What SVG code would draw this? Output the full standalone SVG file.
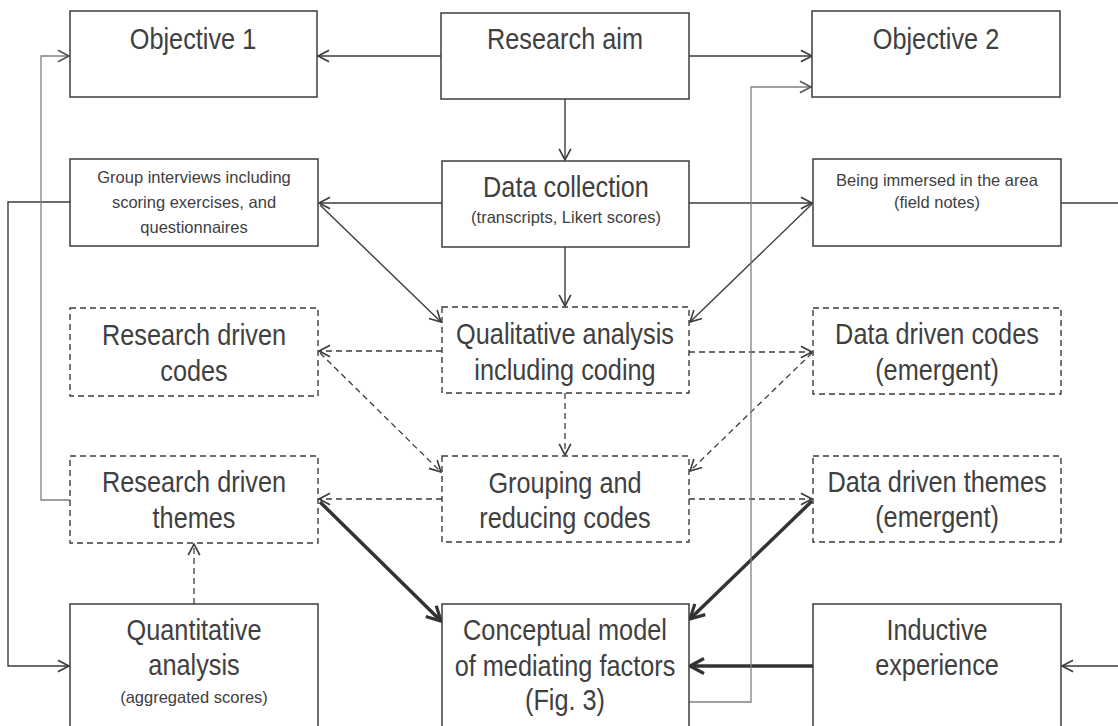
<svg xmlns="http://www.w3.org/2000/svg" width="1118" height="726" viewBox="0 0 1118 726">
  <style>
    .box { fill: #ffffff; stroke: #3c3c3c; stroke-width: 1.5; }
    .dash { fill: #ffffff; stroke: #3c3c3c; stroke-width: 1.4; stroke-dasharray: 6 4; }
    /* large labels use a horizontally condensed sans */
    .big { font-family: "Liberation Sans", Arial, sans-serif; font-size: 30px; fill: #404040; text-anchor: middle; }
    .small { font-family: "Liberation Sans", Arial, sans-serif; font-size: 16.5px; fill: #404040; text-anchor: middle; }
    .ln { fill: none; stroke: #3c3c3c; stroke-width: 1.4; marker-end: url(#open); }
    .dln { fill: none; stroke: #3c3c3c; stroke-width: 1.3; stroke-dasharray: 6 4; marker-end: url(#open); }
    .thick { fill: none; stroke: #333333; stroke-width: 3.5; marker-end: url(#openBig); }
    .grey { fill: none; stroke: #808080; stroke-width: 1.3; marker-end: url(#openGrey); }
  </style>
  <defs>
    <marker id="open" markerUnits="userSpaceOnUse" markerWidth="14" markerHeight="14" viewBox="0 0 12 12" refX="10.5" refY="6" orient="auto">
      <path d="M1,1 L10.5,6 L1,11" fill="none" stroke="#3c3c3c" stroke-width="1.4"/>
    </marker>
    <marker id="openGrey" markerUnits="userSpaceOnUse" markerWidth="14" markerHeight="14" viewBox="0 0 12 12" refX="10.5" refY="6" orient="auto">
      <path d="M1,1 L10.5,6 L1,11" fill="none" stroke="#555555" stroke-width="1.4"/>
    </marker>
    <marker id="openBig" markerUnits="userSpaceOnUse" markerWidth="20" markerHeight="20" viewBox="0 0 20 20" refX="17" refY="10" orient="auto">
      <path d="M3,2.5 L17,10 L3,17.5" fill="none" stroke="#333333" stroke-width="3.2"/>
    </marker>
  </defs>

  <rect width="1118" height="726" fill="#ffffff"/>

  <!-- connectors -->
  <g id="connectors">
    <path class="ln" d="M441,56 H318"/>
    <path class="ln" d="M689,56 H812"/>
    <path class="ln" d="M565,99 V160"/>
    <path class="ln" d="M442,203 H319"/>
    <path class="ln" d="M689,203 H812"/>
    <path class="ln" d="M320,205 L441,322"/>
    <path class="ln" d="M812,204 L690,322"/>
    <path class="ln" d="M565,247 V306"/>
    <path class="dln" d="M442,351 H319"/>
    <path class="dln" d="M689,352 H812"/>
    <path class="dln" d="M320,353 L441,472"/>
    <path class="dln" d="M812,353 L690,471"/>
    <path class="dln" d="M565,393 V455"/>
    <path class="dln" d="M442,499 H319"/>
    <path class="dln" d="M689,499 H812"/>
    <path class="dln" d="M194,604 V544"/>
    <path class="thick" d="M320,502 L441,621"/>
    <path class="thick" d="M812,501 L690,619"/>
    <path class="thick" d="M813,666 H690"/>
    <path class="ln" d="M70,202 H8 V666 H69"/>
    <path class="ln" d="M1061,203 H1130 V666 H1062"/>
    <path class="grey" d="M70,500 H41 V56 H69"/>
    <path class="grey" d="M689,702 H751 V87 H811"/>
  </g>

  <g id="objective1">
    <rect class="box" x="70" y="11" width="247" height="86"/>
    <text class="big" transform="translate(193,49) scale(0.843,1)">Objective 1</text>
  </g>
  <g id="research-aim">
    <rect class="box" x="441" y="13" width="248" height="86"/>
    <text class="big" transform="translate(565,49) scale(0.843,1)">Research aim</text>
  </g>
  <g id="objective2">
    <rect class="box" x="812" y="11" width="248" height="86"/>
    <text class="big" transform="translate(936,49) scale(0.843,1)">Objective 2</text>
  </g>

  <g id="group-interviews">
    <rect class="box" x="70" y="159" width="248" height="87"/>
    <text class="small" x="194" y="183">Group interviews including</text>
    <text class="small" x="194" y="208">scoring exercises, and</text>
    <text class="small" x="194" y="233">questionnaires</text>
  </g>
  <g id="data-collection">
    <rect class="box" x="442" y="161" width="247" height="86"/>
    <text class="big" transform="translate(566,197) scale(0.843,1)">Data collection</text>
    <text class="small" x="566" y="223">(transcripts, Likert scores)</text>
  </g>
  <g id="being-immersed">
    <rect class="box" x="813" y="159" width="248" height="87"/>
    <text class="small" x="937" y="186">Being immersed in the area</text>
    <text class="small" x="937" y="208">(field notes)</text>
  </g>

  <g id="research-driven-codes">
    <rect class="dash" x="70" y="308" width="248" height="88"/>
    <text class="big" transform="translate(194,345) scale(0.843,1)">Research driven</text>
    <text class="big" transform="translate(194,381) scale(0.843,1)">codes</text>
  </g>
  <g id="qualitative-analysis">
    <rect class="dash" x="442" y="307" width="247" height="86"/>
    <text class="big" transform="translate(565,344) scale(0.843,1)">Qualitative analysis</text>
    <text class="big" transform="translate(565,380) scale(0.843,1)">including coding</text>
  </g>
  <g id="data-driven-codes">
    <rect class="dash" x="813" y="308" width="248" height="86"/>
    <text class="big" transform="translate(937,344) scale(0.843,1)">Data driven codes</text>
    <text class="big" transform="translate(937,380) scale(0.843,1)">(emergent)</text>
  </g>

  <g id="research-driven-themes">
    <rect class="dash" x="70" y="456" width="248" height="87"/>
    <text class="big" transform="translate(194,492) scale(0.843,1)">Research driven</text>
    <text class="big" transform="translate(194,528) scale(0.843,1)">themes</text>
  </g>
  <g id="grouping-reducing">
    <rect class="dash" x="442" y="456" width="247" height="86"/>
    <text class="big" transform="translate(565,493) scale(0.843,1)">Grouping and</text>
    <text class="big" transform="translate(565,528) scale(0.843,1)">reducing codes</text>
  </g>
  <g id="data-driven-themes">
    <rect class="dash" x="813" y="456" width="248" height="86"/>
    <text class="big" transform="translate(937,492) scale(0.843,1)">Data driven themes</text>
    <text class="big" transform="translate(937,527) scale(0.843,1)">(emergent)</text>
  </g>

  <g id="quantitative-analysis">
    <rect class="box" x="70" y="604" width="248" height="140"/>
    <text class="big" transform="translate(194,640) scale(0.843,1)">Quantitative</text>
    <text class="big" transform="translate(194,675) scale(0.843,1)">analysis</text>
    <text class="small" x="194" y="703">(aggregated scores)</text>
  </g>
  <g id="conceptual-model">
    <rect class="box" x="442" y="604" width="247" height="140"/>
    <text class="big" transform="translate(565,640) scale(0.843,1)">Conceptual model</text>
    <text class="big" transform="translate(565,676) scale(0.843,1)">of mediating factors</text>
    <text class="big" transform="translate(565,710) scale(0.843,1)">(Fig. 3)</text>
  </g>
  <g id="inductive-experience">
    <rect class="box" x="813" y="604" width="248" height="140"/>
    <text class="big" transform="translate(937,640) scale(0.843,1)">Inductive</text>
    <text class="big" transform="translate(937,675) scale(0.843,1)">experience</text>
  </g>
</svg>
